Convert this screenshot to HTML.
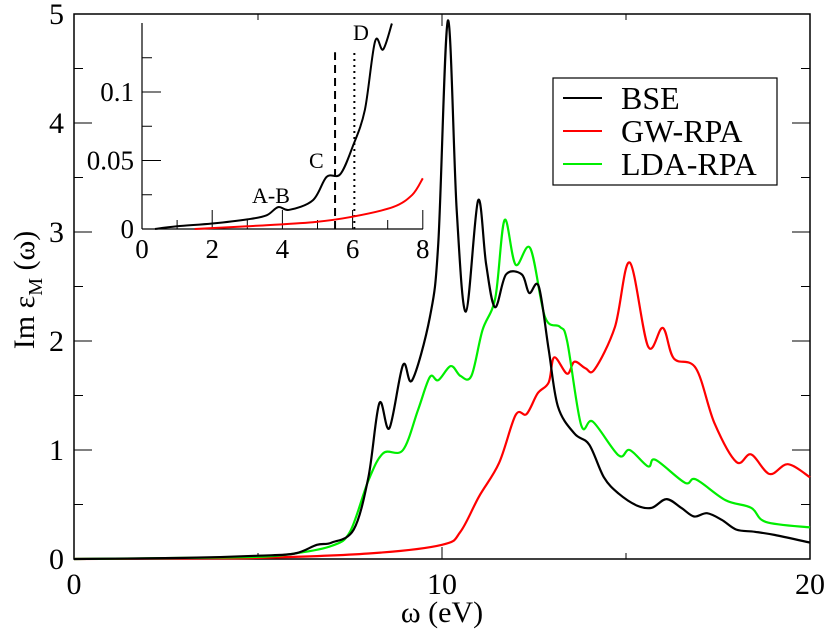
<!DOCTYPE html>
<html><head><meta charset="utf-8"><style>
body{margin:0;background:#fff}
svg, svg text{font-family:"Liberation Serif","Times New Roman",serif}
</style></head><body>
<svg id="c" width="830" height="633" viewBox="0 0 830 633" font-family="Liberation Serif, serif"></svg>
<script>
const bseX=[0,3,5,6,6.6,7,7.6,8.0,8.3,8.57,8.94,9.19,9.67,9.9,10.16,10.4,10.65,10.98,11.2,11.44,11.74,12.17,12.37,12.63,12.9,13.15,13.6,14.0,14.4,14.8,15.3,15.7,16.1,16.5,16.85,17.2,17.6,18.0,18.5,19.05,20];
const bseY=[0,0.01,0.03,0.05,0.13,0.15,0.27,0.75,1.43,1.2,1.78,1.64,2.22,2.9,4.94,3.2,2.27,3.29,2.7,2.31,2.61,2.61,2.44,2.5,1.92,1.4,1.15,1.05,0.75,0.6,0.49,0.47,0.55,0.47,0.39,0.42,0.36,0.27,0.25,0.22,0.15];
const gwX=[0,3,5,8,10,10.5,11.0,11.55,12.0,12.3,12.6,12.9,13.05,13.4,13.6,13.9,14.15,14.7,15.1,15.6,16.0,16.3,16.9,17.4,18.0,18.4,18.9,19.4,20];
const gwY=[0,0.005,0.01,0.05,0.13,0.25,0.57,0.88,1.32,1.33,1.52,1.62,1.85,1.7,1.81,1.75,1.74,2.13,2.72,1.95,2.12,1.84,1.75,1.25,0.89,0.96,0.78,0.87,0.75];
const ldaX=[0,3,5,6,7,7.5,8.0,8.4,8.94,9.35,9.67,9.9,10.24,10.5,10.8,11.1,11.45,11.7,12.0,12.4,12.8,13.2,13.4,13.78,14.1,14.8,15.1,15.6,15.8,16.6,16.9,17.7,18.4,18.8,20];
const ldaY=[0,0.01,0.02,0.05,0.12,0.25,0.72,0.97,1.0,1.37,1.67,1.64,1.77,1.68,1.68,2.1,2.4,3.11,2.7,2.85,2.22,2.13,2.0,1.23,1.26,0.95,1.0,0.85,0.91,0.7,0.73,0.54,0.47,0.34,0.29];
const inBseX=[0.37,1,2.0,3.0,3.55,3.88,4.2,4.87,5.26,5.65,6.0,6.35,6.64,6.87,7.12];
const inBseY=[0,0.002,0.004,0.007,0.010,0.016,0.014,0.021,0.038,0.040,0.060,0.087,0.137,0.131,0.150];
const inGwX=[1.5,3,4.87,6.0,7.15,7.7,8.0];
const inGwY=[0,0.002,0.005,0.009,0.016,0.025,0.037];
const xTicks=[0,10,20], yTicks=[0,1,2,3,4,5];
const inXTicks=[0,2,4,6,8], inYTicks=[0,0.05,0.1];
const inYLabels=["0","0.05","0.1"];

const svg=document.getElementById('c');
const NS='http://www.w3.org/2000/svg';
const FF='Liberation Serif, Times New Roman, serif';
function mk(t,a,p){const e=document.createElementNS(NS,t);for(const k in a)e.setAttribute(k,a[k]);if(t==='text')e.setAttribute('font-family',FF);(p||svg).appendChild(e);return e;}
const X=v=>74+v*36.8, Y=v=>559-v*109;
const IX=v=>142+v*35.1, IY=v=>229-v*1370;
function smooth(xs,ys,fx,fy){
  const P=xs.map((x,i)=>[fx(x),fy(ys[i])]);
  let d='M'+P[0][0].toFixed(1)+','+P[0][1].toFixed(1);
  for(let i=0;i<P.length-1;i++){
    const p0=P[i-1]||P[i],p1=P[i],p2=P[i+1],p3=P[i+2]||P[i+1];
    const c1=[p1[0]+(p2[0]-p0[0])/6,p1[1]+(p2[1]-p0[1])/6];
    const c2=[p2[0]-(p3[0]-p1[0])/6,p2[1]-(p3[1]-p1[1])/6];
    d+=' C'+c1.map(v=>v.toFixed(1))+' '+c2.map(v=>v.toFixed(1))+' '+p2.map(v=>v.toFixed(1));
  }
  return d;
}
let fr=mk('rect',{x:74,y:14,width:736,height:545,fill:'none',stroke:'#000','stroke-width':1.5});

xTicks.forEach(t=>{
  mk('line',{x1:X(t),x2:X(t),y1:559,y2:547,stroke:'#000'});
  mk('line',{x1:X(t),x2:X(t),y1:14,y2:26,stroke:'#000'});
  const l=mk('text',{x:X(t),y:594,'font-size':30,'text-anchor':'middle'});l.textContent=t;
  
});
[5,15].forEach(t=>{mk('line',{x1:X(t),x2:X(t),y1:559,y2:553,stroke:'#000'});mk('line',{x1:X(t),x2:X(t),y1:14,y2:20,stroke:'#000'});});
yTicks.forEach(t=>{
  mk('line',{x1:74,x2:92,y1:Y(t),y2:Y(t),stroke:'#000'});
  mk('line',{x1:810,x2:792,y1:Y(t),y2:Y(t),stroke:'#000'});
  const l=mk('text',{x:64,y:Y(t)+10,'font-size':30,'text-anchor':'end'});l.textContent=t;
  
});
[0.5,1.5,2.5,3.5,4.5].forEach(t=>{mk('line',{x1:74,x2:83,y1:Y(t),y2:Y(t),stroke:'#000'});mk('line',{x1:810,x2:801,y1:Y(t),y2:Y(t),stroke:'#000'});});
let xt=mk('text',{x:442,y:622,'font-size':30,'text-anchor':'middle'});xt.textContent='ω (eV)';

let yt=mk('text',{transform:'translate(34,290) rotate(-90)','font-size':30,'text-anchor':'middle'});
yt.innerHTML='Im ε<tspan font-size="20" dy="8">M</tspan><tspan dy="-8"> (ω)</tspan>';

[[gwX,gwY,'#ff0000','gw-rpa-line'],[ldaX,ldaY,'#00ee00','lda-rpa-line'],[bseX,bseY,'#000','bse-line']].forEach(s=>{
  const p=mk('path',{d:smooth(s[0],s[1],X,Y),fill:'none',stroke:s[2],'stroke-width':2.2});
  
});
const g=mk('g',{});

mk('rect',{x:142,y:23,width:281,height:206,fill:'#fff'},g);
mk('line',{x1:142,x2:142,y1:23,y2:229,stroke:'#000','stroke-width':1.2},g);
mk('line',{x1:142,x2:423,y1:229,y2:229,stroke:'#000','stroke-width':1.2},g);
inXTicks.forEach(t=>{
  mk('line',{x1:IX(t),x2:IX(t),y1:229,y2:210,stroke:'#000'},g);
  const l=mk('text',{x:IX(t),y:258,'font-size':27,'text-anchor':'middle'},g);l.textContent=t;
  
});
[1,3,5,7].forEach(t=>mk('line',{x1:IX(t),x2:IX(t),y1:229,y2:220,stroke:'#000'},g));
inYTicks.forEach((t,i)=>{
  mk('line',{x1:142,x2:161,y1:IY(t),y2:IY(t),stroke:'#000'},g);
  const l=mk('text',{x:134,y:IY(t)+9,'font-size':27,'text-anchor':'end'},g);l.textContent=inYLabels[i];
  
});
[0.025,0.075,0.125].forEach(t=>mk('line',{x1:142,x2:152,y1:IY(t),y2:IY(t),stroke:'#000'},g));
mk('line',{x1:IX(5.5),x2:IX(5.5),y1:229,y2:IY(0.129),stroke:'#000','stroke-width':2,'stroke-dasharray':'8,5'},g);
mk('line',{x1:IX(6.05),x2:IX(6.05),y1:229,y2:IY(0.129),stroke:'#000','stroke-width':2,'stroke-dasharray':'2,4'},g);
let ig=mk('path',{d:smooth(inGwX,inGwY,IX,IY),fill:'none',stroke:'#ff0000','stroke-width':2},g);

let ib=mk('path',{d:smooth(inBseX,inBseY,IX,IY),fill:'none',stroke:'#000','stroke-width':2},g);

[['A-B',252,203],['C',309,168],['D',353,40]].forEach(a=>{
  const l=mk('text',{x:a[1],y:a[2],'font-size':22},g);l.textContent=a[0];
  
});
const lg=mk('g',{});

mk('rect',{x:553,y:78,width:224,height:107,fill:'#fff',stroke:'#000','stroke-width':1.2},lg);
[['BSE','#000',98],['GW-RPA','#ff0000',131],['LDA-RPA','#00ee00',164]].forEach(e=>{
  const it=mk('g',{},lg);
  
  mk('line',{x1:563,x2:602,y1:e[2],y2:e[2],stroke:e[1],'stroke-width':2},it);
  const t=mk('text',{x:621,y:e[2]+11,'font-size':32},it);t.textContent=e[0];
});
</script>
</body></html>
